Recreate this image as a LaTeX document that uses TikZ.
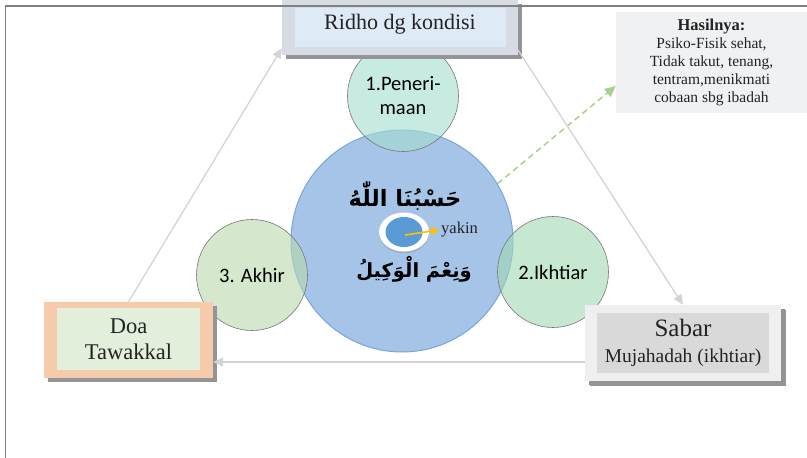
\documentclass[tikz,border=0pt]{standalone}
\usepackage{fontspec}
\setmainfont{Liberation Serif}
\newfontfamily\calfont{Carlito}
\newfontfamily\arabicfont[Script=Arabic]{DejaVu Sans}
\TeXXeTstate=1
\usetikzlibrary{arrows.meta,shadows,calc,shapes.geometric}
\definecolor{shadowgray}{RGB}{148,148,150}
\definecolor{textdark}{RGB}{35,35,35}
\definecolor{ridhoout}{RGB}{214,220,228}
\definecolor{ridhoin}{RGB}{222,234,246}
\definecolor{doaout}{RGB}{245,203,172}
\definecolor{doain}{RGB}{226,239,218}
\definecolor{sabarout}{RGB}{239,239,239}
\definecolor{sabarin}{RGB}{217,217,217}
\definecolor{hasilfill}{RGB}{240,241,243}
\definecolor{mainblue}{RGB}{166,195,232}
\definecolor{mainborder}{RGB}{118,168,218}
\definecolor{petalborder}{RGB}{120,120,120}
\definecolor{petalteal}{RGB}{163,222,205}
\definecolor{petalgreenL}{RGB}{185,217,172}
\definecolor{petalgreenR}{RGB}{160,217,177}
\definecolor{arrowgray}{RGB}{212,212,214}
\definecolor{dashgreen}{RGB}{169,209,142}
\definecolor{eyeblue}{RGB}{91,155,213}
\definecolor{yakinorange}{RGB}{255,192,0}
\definecolor{framegray}{RGB}{128,128,128}
\begin{document}
\begin{tikzpicture}[x=1pt,y=-1pt,
  outerbox/.style={rectangle, inner sep=0pt, draw=none,
    drop shadow={shadow xshift=3.5pt, shadow yshift=-3.5pt, fill=shadowgray, opacity=1}},
  innerbox/.style={rectangle, inner sep=0pt, draw=none, align=center, text=textdark},
  mainc/.style={circle, minimum size=222pt, inner sep=0pt, fill=mainblue, draw=mainborder, line width=1pt},
  petal/.style={circle, minimum size=111pt, inner sep=0pt, draw=petalborder, line width=0.6pt,
    fill opacity=0.6, text opacity=1, align=center, text=black,
    font=\calfont\fontsize{20.5}{24}\selectfont},
  grayarrow/.style={draw=arrowgray, line width=1.3pt, -{Triangle[length=10pt,width=9pt]}},
  greenarrow/.style={draw=dashgreen, line width=1.5pt, dash pattern=on 6pt off 4pt,
    -{Triangle[length=11pt,width=10pt]}},
  orangearrow/.style={draw=yakinorange, line width=1.6pt, -{Triangle[length=8pt,width=8pt]}},
  arabic/.style={inner sep=0pt, text=black},
]
\useasboundingbox (0,0) rectangle (807,458);
\fill[white] (0,0) rectangle (807,458);

% central circle and petals
\node[mainc] (main) at (402,241) {};
\node[petal, fill=petalteal] (p1) at (403,96) {1.Peneri-\\maan};
\node[petal, fill=petalgreenL] (p3) at (252,275) {3. Akhir};
\node[petal, fill=petalgreenR] (p2) at (553,272) {2.Ikhtiar};

% arabic text
\node[arabic, font=\arabicfont\bfseries\fontsize{22.5}{26}\selectfont] (ar1) at (405,196) {\beginR حَسْبُنَا اللّٰهُ\endR};
\node[arabic, font=\arabicfont\bfseries\fontsize{19.5}{24}\selectfont] (ar2) at (414,269) {\beginR وَنِعْمَ الْوَكِيلُ\endR};

% eye
\node[ellipse, minimum width=50pt, minimum height=39pt, inner sep=0pt, fill=white,
  drop shadow={shadow xshift=0pt, shadow yshift=-2pt, opacity=0.25}] (ring) at (404,232) {};
\node[ellipse, minimum width=37pt, minimum height=30pt, inner sep=0pt, fill=eyeblue] (eye) at (404,232) {};
\node[anchor=west, inner sep=2pt, text=textdark, font=\fontsize{16.5}{18}\selectfont] (yakin) at (439,230) {yakin};
\coordinate (eyestart) at (405,235);
\draw[orangearrow] (eyestart) -- (yakin.west);

% result box
\node[rectangle, fill=hasilfill, minimum width=191pt, minimum height=101pt, inner sep=0pt,
  align=center, text=textdark, font=\fontsize{15.5}{18}\selectfont] (hasil) at (711.5,62.5)
  {{\fontsize{16.5}{18}\selectfont\textbf{Hasilnya:}}\\Psiko-Fisik sehat,\\Tidak takut, tenang,\\tentram,menikmati\\cobaan sbg ibadah};
\draw[greenarrow] (main.31) -- ($(hasil.west)+(0,23.5)$);

% boxes
\node[outerbox, fill=ridhoout, minimum width=236pt, minimum height=55pt] (ridho) at (400,27.5) {};
\node[innerbox, fill=ridhoin, minimum width=211pt, minimum height=39pt] (ridhoinner) at (400.5,27.5) {};
\node[inner sep=0pt, text=textdark, font=\fontsize{22}{24}\selectfont] (ridhotxt) at (400,24) {Ridho dg kondisi};

\node[outerbox, fill=doaout, minimum width=169pt, minimum height=76pt] (doa) at (128.5,340) {};
\node[innerbox, fill=doain, minimum width=143pt, minimum height=62pt,
  font=\fontsize{22.5}{26}\selectfont] (doainner) at (128.5,339) {Doa\\Tawakkal};

\node[outerbox, fill=sabarout, minimum width=196pt, minimum height=76pt,
  drop shadow={shadow xshift=5pt, shadow yshift=-5pt, fill=shadowgray, opacity=1}] (sabar) at (683,343) {};
\node[innerbox, fill=sabarin, minimum width=172pt, minimum height=60pt,
  font=\fontsize{19.5}{26}\selectfont] (sabarinner) at (683,343)
  {{\fontsize{25}{27}\selectfont Sabar}\\Mujahadah (ikhtiar)};

% cycle arrows
\draw[grayarrow] (doa.north) -- ($(ridho.south west)+(0,-7)$);
\draw[grayarrow] ($(ridho.south east)+(0,-5)$) -- (sabar.north);
\draw[grayarrow] ($(sabar.west)+(0,19)$) -- ($(doa.east)+(0,22)$);

% frame
\draw[framegray, line width=1.6pt] (5.5,460) -- (5.5,6) -- (810,6);
\end{tikzpicture}
\end{document}
